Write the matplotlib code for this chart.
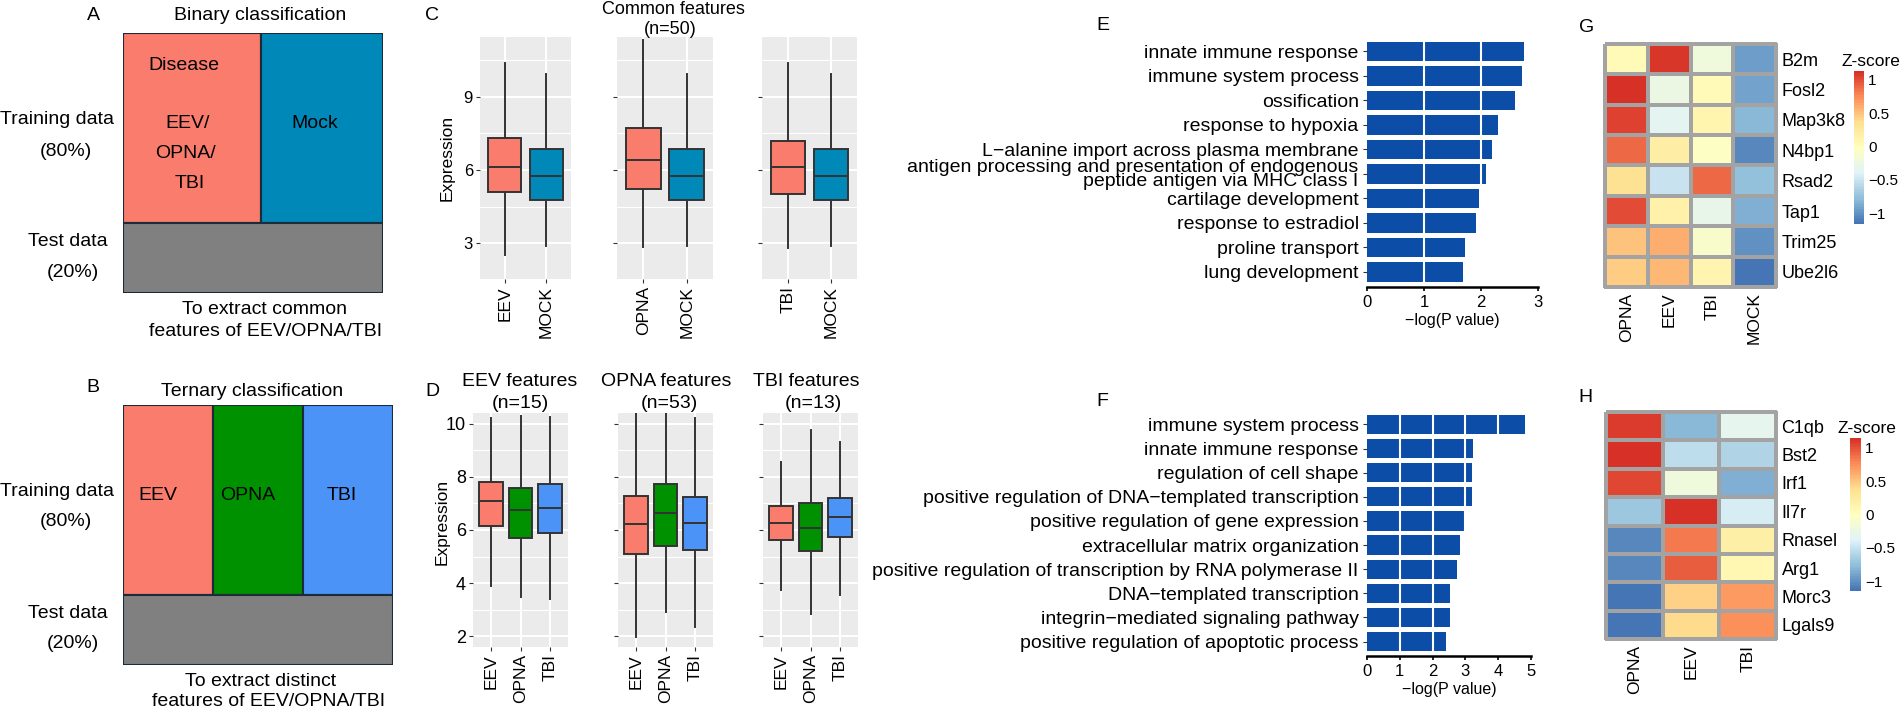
import numpy as np
import matplotlib
matplotlib.use("Agg")
import matplotlib.pyplot as plt
from matplotlib.patches import Rectangle
from matplotlib.colors import LinearSegmentedColormap, Normalize
from matplotlib.cm import ScalarMappable

plt.rcParams["font.family"] = ["Liberation Sans", "DejaVu Sans"]

# ================== DATA ==================
binary_groups = ["Disease", "Mock"]
binary_share = [0.53, 0.47]
ternary_groups = ["EEV", "OPNA", "TBI"]
ternary_share = [1 / 3, 1 / 3, 1 / 3]
train_share = 0.73

# box stats: whislo, q1, median, q3, whishi
c_groups = [["EEV", "MOCK"], ["OPNA", "MOCK"], ["TBI", "MOCK"]]
c_boxes = [
    [[2.53, 5.10, 6.12, 7.30, 10.37], [2.90, 4.78, 5.76, 6.86, 9.92]],
    [[2.86, 5.24, 6.41, 7.71, 11.30], [2.90, 4.78, 5.76, 6.86, 9.92]],
    [[2.83, 5.02, 6.12, 7.18, 10.35], [2.90, 4.78, 5.76, 6.86, 9.92]],
]
d_groups = ["EEV", "OPNA", "TBI"]
d_titles = ["EEV features", "OPNA features", "TBI features"]
d_counts = ["(n=15)", "(n=53)", "(n=13)"]
d_boxes = [
    [[3.90, 6.15, 7.08, 7.80, 10.20], [3.48, 5.70, 6.75, 7.58, 10.30], [3.42, 5.90, 6.83, 7.73, 10.25]],
    [[1.98, 5.10, 6.22, 7.28, 10.40], [2.92, 5.40, 6.64, 7.73, 10.40], [2.35, 5.25, 6.27, 7.24, 10.20]],
    [[3.75, 5.62, 6.25, 6.90, 8.56], [2.84, 5.20, 6.08, 7.00, 9.75], [3.55, 5.73, 6.48, 7.20, 9.30]],
]

e_terms = ["innate immune response", "immune system process", "ossification",
           "response to hypoxia", "L\u2212alanine import across plasma membrane",
           "antigen processing and presentation of endogenous\npeptide antigen via MHC class I",
           "cartilage development", "response to estradiol", "proline transport",
           "lung development"]
e_values = [2.75, 2.72, 2.59, 2.29, 2.19, 2.09, 1.96, 1.91, 1.72, 1.68]

f_terms = ["immune system process", "innate immune response", "regulation of cell shape",
           "positive regulation of DNA\u2212templated transcription",
           "positive regulation of gene expression", "extracellular matrix organization",
           "positive regulation of transcription by RNA polymerase II",
           "DNA\u2212templated transcription", "integrin\u2212mediated signaling pathway",
           "positive regulation of apoptotic process"]
f_values = [4.83, 3.23, 3.21, 3.19, 2.98, 2.85, 2.75, 2.54, 2.52, 2.41]

g_genes = ["B2m", "Fosl2", "Map3k8", "N4bp1", "Rsad2", "Tap1", "Trim25", "Ube2l6"]
g_groups = ["OPNA", "EEV", "TBI", "MOCK"]
g_z = [
    [0.05, 1.10, -0.20, -0.95],
    [1.13, -0.25, 0.05, -0.93],
    [1.05, -0.35, 0.10, -0.80],
    [0.90, 0.20, -0.05, -1.05],
    [0.35, -0.50, 0.90, -0.75],
    [1.00, 0.15, -0.30, -0.85],
    [0.50, 0.60, -0.10, -1.00],
    [0.45, 0.55, 0.10, -1.16],
]
h_genes = ["C1qb", "Bst2", "Irf1", "Il7r", "Rnasel", "Arg1", "Morc3", "Lgals9"]
h_groups = ["OPNA", "EEV", "TBI"]
h_z = [
    [1.10, -0.80, -0.30],
    [1.15, -0.55, -0.60],
    [1.05, -0.20, -0.85],
    [-0.70, 1.13, -0.43],
    [-1.05, 0.85, 0.20],
    [-1.05, 0.95, 0.10],
    [-1.15, 0.45, 0.70],
    [-1.15, 0.40, 0.75],
]

# ================== STYLE ==================
SALMON = "#F97C6D"
MOCK_BLUE = "#0088B9"
GREEN = "#009100"
LBLUE = "#4B93F7"
GREY = "#808080"
EDGE = "#1C2B3A"
BAR = "#0B4DA7"
DARK = "#333333"

W, H = 1904, 712
fig = plt.figure(figsize=(W / 100, H / 100), dpi=100)


def add_ax(x0, y0, x1, y1):
    return fig.add_axes([x0 / W, 1 - y1 / H, (x1 - x0) / W, (y1 - y0) / H])


def ftext(x, y, s, size=14, ha="center", va="center", **kw):
    fig.text(x / W, 1 - y / H, s, fontsize=size, ha=ha, va=va, **kw)


# ================== A / B : SCHEMES ==================
def scheme(box, groups, shares, colors):
    ax = add_ax(*box)
    ax.set_xlim(0, 1)
    ax.set_ylim(0, 1)
    ax.axis("off")
    left = 0
    for g, w, c in zip(groups, shares, colors):
        ax.add_patch(Rectangle((left, 1 - train_share), w, train_share, fc=c, ec=EDGE, lw=1.5))
        left += w
    ax.add_patch(Rectangle((0, 0), 1, 1 - train_share, fc=GREY, ec=EDGE, lw=1.5))
    return ax


scheme((123, 33, 383, 293), binary_groups, binary_share, [SALMON, MOCK_BLUE])
ftext(93, 16, "A")
ftext(260, 16, "Binary classification")
ftext(184, 66, binary_groups[0])
ftext(188, 123, "EEV/")
ftext(185, 153, "OPNA/")
ftext(190, 183, "TBI")
ftext(315, 124, binary_groups[1])
ftext(57, 120, "Training data")
ftext(66, 151, "(80%)")
ftext(68, 241, "Test data")
ftext(73, 272, "(20%)")
ftext(264, 310, "To extract common")
ftext(266, 332, "features of EEV/OPNA/TBI")

scheme((123, 405, 393, 665), ternary_groups, ternary_share, [SALMON, GREEN, LBLUE])
ftext(93, 387, "B")
ftext(252, 392, "Ternary classification")
for gx, g in zip([158, 248, 342], ternary_groups):
    ftext(gx, 495, g)
ftext(57, 492, "Training data")
ftext(66, 522, "(80%)")
ftext(68, 613, "Test data")
ftext(73, 643, "(20%)")
ftext(261, 681, "To extract distinct")
ftext(269, 702, "features of EEV/OPNA/TBI")


# ================== C / D : BOXPLOTS ==================
def box_panel(box, rows, labels, colors, ylim, major, minor, show_y, ysize):
    ax = add_ax(*box)
    n = len(rows)
    stats = [dict(whislo=r[0], q1=r[1], med=r[2], q3=r[3], whishi=r[4], label=l)
             for r, l in zip(rows, labels)]
    pos = np.arange(1, n + 1)
    bp = ax.bxp(stats, positions=pos, widths=0.8, patch_artist=True, showfliers=False,
                showcaps=False,
                boxprops=dict(edgecolor=DARK, linewidth=1.4),
                medianprops=dict(color=DARK, linewidth=1.4),
                whiskerprops=dict(color=DARK, linewidth=1.4))
    for patch, c in zip(bp["boxes"], colors):
        patch.set_facecolor(c)
    ax.set_xlim(0.4, n + 0.6)
    ax.set_ylim(*ylim)
    ax.set_facecolor("#EBEBEB")
    ax.set_yticks(major)
    ax.set_yticks(minor, minor=True)
    ax.set_xticks(pos)
    ax.set_xticklabels(labels, rotation=90, fontsize=12.5)
    if show_y:
        ax.set_yticklabels([str(v) for v in major], fontsize=ysize)
    else:
        ax.set_yticklabels([])
    ax.grid(which="major", color="white", linewidth=1.5)
    ax.grid(which="minor", axis="y", color="white", linewidth=0.8)
    ax.set_axisbelow(True)
    for s in ax.spines.values():
        s.set_visible(False)
    ax.tick_params(which="major", length=3, color=DARK, pad=2)
    ax.tick_params(which="minor", length=0)
    return ax


c_boxes_x = [(480, 571), (617, 713), (762, 857)]
for i, (x0, x1) in enumerate(c_boxes_x):
    cols = [SALMON, MOCK_BLUE]
    box_panel((x0, 37, x1, 279), c_boxes[i], c_groups[i], cols, (1.55, 11.43),
              [3, 6, 9], [4.5, 7.5, 10.5], i == 0, 12)
ftext(432, 15, "C")
ftext(673, 10, "Common features", size=13)
ftext(670, 29, "(n=50)", size=13)
ftext(447, 158, "Expression", size=12.5, rotation=90)

d_boxes_x = [(473, 568), (618, 713), (763, 858)]
d_title_x = [520, 666, 806]
d_count_x = [520, 669, 813]
for i, (x0, x1) in enumerate(d_boxes_x):
    box_panel((x0, 413, x1, 647), d_boxes[i], d_groups, [SALMON, GREEN, LBLUE], (1.6, 10.4),
              [2, 4, 6, 8, 10], [3, 5, 7, 9], i == 0, 13)
    ftext(d_title_x[i], 382, d_titles[i], size=14)
    ftext(d_count_x[i], 403, d_counts[i], size=14)
ftext(432, 392, "D")
ftext(442, 522, "Expression", size=12.5, rotation=90)


# ================== E / F : GO BARS ==================
def go_panel(box, terms, values, xmax):
    ax = add_ax(*box)
    n = len(terms)
    pos = np.arange(1, n + 1)
    ax.barh(pos, values, height=0.8, color=BAR, zorder=1)
    for t in range(1, xmax):
        ax.axvline(t, color="white", linewidth=1.5, zorder=1.5)
    ax.set_xlim(0, xmax)
    ax.set_ylim(n + 0.6, 0.4)
    ax.set_yticks(pos)
    ax.set_yticklabels(terms, fontsize=14, linespacing=0.8)
    ax.set_xticks(range(0, xmax + 1))
    ax.tick_params(axis="x", labelsize=12, length=3, width=1.2, pad=3)
    ax.tick_params(axis="y", length=3, color=DARK, pad=3)
    for s in ["top", "right", "left"]:
        ax.spines[s].set_visible(False)
    ax.spines["bottom"].set_linewidth(1.8)
    ax.set_xlabel("\u2212log(P value)", fontsize=11.5, labelpad=2)
    return ax


go_panel((1367, 36.6, 1538, 286.7), e_terms, e_values, 3)
ftext(1103, 26, "E")
go_panel((1367, 410, 1531, 656), f_terms, f_values, 5)
ftext(1102, 401, "F")


# ================== G / H : HEATMAPS ==================
cmap = LinearSegmentedColormap.from_list(
    "rdylbu_r", ["#4575B4", "#91BFDB", "#E0F3F8", "#FFFFBF", "#FEE090", "#FC8D59", "#D73027"], N=100)


def heat_panel(box, cbox, genes, groups, z, title_xy):
    ax = add_ax(*box)
    z = np.array(z)
    norm = Normalize(vmin=z.min(), vmax=z.max())
    mesh = ax.pcolormesh(z, cmap=cmap, norm=norm, edgecolors="#A3A3A3", linewidth=1.6)
    mesh.set_clip_on(False)
    ax.set_xlim(0, len(groups))
    ax.set_ylim(len(genes), 0)
    for s in ax.spines.values():
        s.set_visible(False)
    ax.set_yticks(np.arange(len(genes)) + 0.5)
    ax.set_yticklabels(genes, fontsize=13)
    ax.yaxis.tick_right()
    ax.set_xticks(np.arange(len(groups)) + 0.5)
    ax.set_xticklabels(groups, rotation=90, fontsize=12.5)
    ax.tick_params(length=0, pad=4)
    cax = add_ax(*cbox)
    cb = fig.colorbar(ScalarMappable(norm=norm, cmap=cmap), cax=cax)
    cb.outline.set_visible(False)
    cb.set_ticks([-1, -0.5, 0, 0.5, 1])
    cb.set_ticklabels(["\u22121", "\u22120.5", "0", "0.5", "1"])
    cax.tick_params(length=0, pad=3, labelsize=11)
    ftext(title_xy[0], title_xy[1], "Z-score", size=12.5, ha="left")
    return ax


heat_panel((1605, 44, 1776, 287), (1854, 71, 1864, 224), g_genes, g_groups, g_z, (1842, 62))
ftext(1587, 27, "G")
heat_panel((1606, 412, 1776, 639), (1850, 438, 1861, 591), h_genes, h_groups, h_z, (1838, 429))
ftext(1585, 398, "H")

fig.savefig("out.png", dpi=100, facecolor="white")
